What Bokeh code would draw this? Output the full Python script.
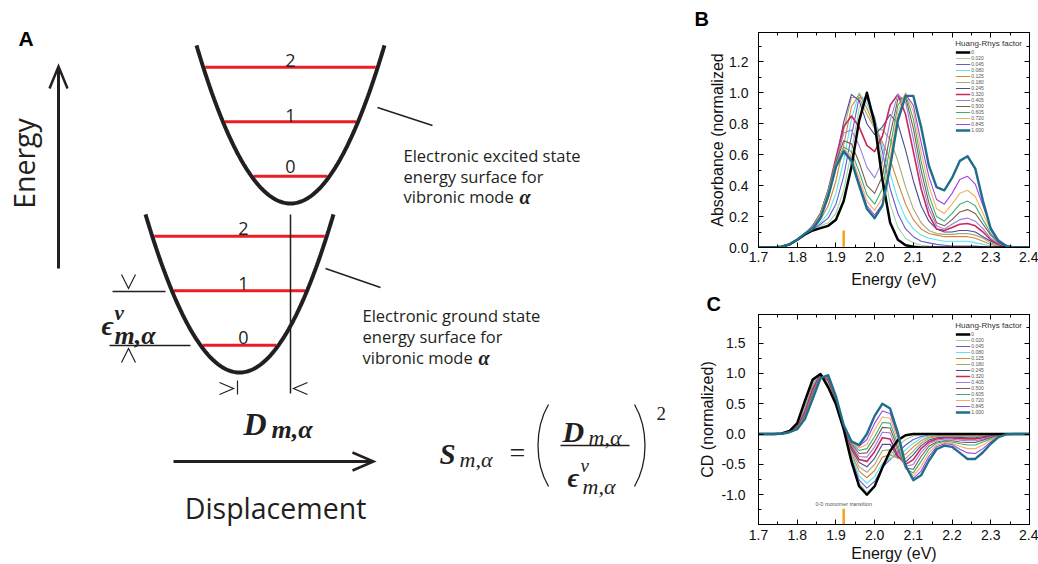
import numpy as np
from bokeh.plotting import figure
from bokeh.layouts import row, column
from bokeh.models import (Range1d, SingleIntervalTicker, NumeralTickFormatter,
                          LinearAxis, Legend, LegendItem)
from bokeh.core.properties import value
from bokeh.embed import file_html
from bokeh.resources import INLINE

# ------------------------------------------------------------------ data
ENERGY_EV = [1.70, 1.74, 1.76, 1.78, 1.80, 1.82, 1.84, 1.86, 1.88, 1.90, 1.92, 1.94,
             1.96, 1.98, 2.00, 2.02, 2.04, 2.06, 2.08, 2.10, 2.12, 2.14, 2.16, 2.18,
             2.20, 2.22, 2.24, 2.26, 2.28, 2.30, 2.32, 2.34, 2.36, 2.40]

HR_FACTORS = ["0", "0.020", "0.045", "0.080", "0.125", "0.180", "0.245",
              "0.320", "0.405", "0.500", "0.605", "0.720", "0.845", "1.000"]

# Panel B: normalized absorbance, one list per Huang-Rhys factor
ABS_0 = [0, 0, 0.005, 0.02, 0.05, 0.085, 0.11, 0.125, 0.14, 0.18, 0.30, 0.52, 0.82, 1.00, 0.80, 0.44, 0.16, 0.05, 0.015, 0.005, 0, 0, 0, 0, 0, 0, 0, 0, 0, 0, 0, 0, 0, 0]
ABS_020 = [0, 0, 0.005, 0.02, 0.05, 0.09, 0.12, 0.14, 0.16, 0.22, 0.37, 0.62, 0.90, 0.99, 0.84, 0.55, 0.28, 0.13, 0.06, 0.03, 0.015, 0.01, 0.005, 0, 0, 0, 0, 0, 0, 0, 0, 0, 0, 0]
ABS_045 = [0, 0, 0.005, 0.02, 0.05, 0.09, 0.12, 0.15, 0.19, 0.28, 0.46, 0.72, 0.97, 0.96, 0.84, 0.62, 0.38, 0.22, 0.12, 0.07, 0.04, 0.03, 0.02, 0.015, 0.01, 0.01, 0.01, 0.01, 0.005, 0, 0, 0, 0, 0]
ABS_080 = [0, 0, 0.005, 0.02, 0.05, 0.09, 0.13, 0.16, 0.22, 0.35, 0.56, 0.83, 1.00, 0.93, 0.82, 0.66, 0.48, 0.31, 0.19, 0.12, 0.08, 0.06, 0.05, 0.04, 0.04, 0.04, 0.04, 0.03, 0.02, 0.01, 0.005, 0, 0, 0]
ABS_125 = [0, 0, 0.005, 0.02, 0.05, 0.09, 0.13, 0.18, 0.27, 0.43, 0.66, 0.91, 0.99, 0.90, 0.78, 0.68, 0.57, 0.42, 0.28, 0.18, 0.12, 0.09, 0.08, 0.07, 0.07, 0.07, 0.07, 0.06, 0.04, 0.02, 0.01, 0.005, 0, 0]
ABS_180 = [0, 0, 0.005, 0.02, 0.05, 0.09, 0.14, 0.20, 0.32, 0.51, 0.76, 0.97, 0.97, 0.86, 0.77, 0.76, 0.70, 0.56, 0.39, 0.25, 0.16, 0.11, 0.09, 0.085, 0.085, 0.09, 0.09, 0.08, 0.06, 0.03, 0.015, 0.005, 0, 0]
ABS_245 = [0, 0, 0.005, 0.02, 0.05, 0.09, 0.14, 0.21, 0.35, 0.56, 0.81, 0.99, 0.95, 0.80, 0.73, 0.78, 0.86, 0.80, 0.63, 0.43, 0.27, 0.17, 0.12, 0.10, 0.10, 0.11, 0.11, 0.10, 0.07, 0.04, 0.02, 0.005, 0, 0]
ABS_320 = [0, 0, 0.005, 0.02, 0.05, 0.09, 0.14, 0.22, 0.37, 0.58, 0.78, 0.85, 0.78, 0.66, 0.62, 0.72, 0.92, 0.99, 0.86, 0.62, 0.38, 0.21, 0.12, 0.11, 0.13, 0.15, 0.155, 0.14, 0.10, 0.05, 0.02, 0.005, 0, 0]
ABS_405 = [0, 0, 0.005, 0.02, 0.05, 0.09, 0.14, 0.22, 0.37, 0.56, 0.74, 0.76, 0.66, 0.52, 0.45, 0.56, 0.82, 0.99, 0.94, 0.70, 0.44, 0.25, 0.14, 0.12, 0.15, 0.18, 0.19, 0.17, 0.12, 0.06, 0.025, 0.01, 0, 0]
ABS_500 = [0, 0, 0.005, 0.02, 0.05, 0.09, 0.14, 0.22, 0.37, 0.55, 0.69, 0.67, 0.55, 0.40, 0.35, 0.46, 0.73, 0.96, 0.97, 0.77, 0.50, 0.29, 0.16, 0.14, 0.18, 0.23, 0.245, 0.22, 0.15, 0.08, 0.03, 0.01, 0, 0]
ABS_605 = [0, 0, 0.005, 0.02, 0.05, 0.09, 0.14, 0.22, 0.37, 0.54, 0.65, 0.62, 0.49, 0.34, 0.28, 0.38, 0.65, 0.92, 0.99, 0.83, 0.56, 0.34, 0.20, 0.17, 0.22, 0.28, 0.30, 0.27, 0.18, 0.09, 0.035, 0.01, 0, 0]
ABS_720 = [0, 0, 0.005, 0.02, 0.05, 0.09, 0.13, 0.21, 0.36, 0.53, 0.64, 0.59, 0.45, 0.30, 0.24, 0.32, 0.58, 0.88, 1.00, 0.88, 0.62, 0.40, 0.25, 0.22, 0.28, 0.35, 0.37, 0.33, 0.22, 0.11, 0.04, 0.01, 0, 0]
ABS_845 = [0, 0, 0.005, 0.02, 0.05, 0.09, 0.13, 0.20, 0.35, 0.52, 0.63, 0.57, 0.42, 0.27, 0.21, 0.28, 0.52, 0.84, 0.99, 0.92, 0.68, 0.46, 0.31, 0.28, 0.35, 0.44, 0.46, 0.41, 0.27, 0.13, 0.05, 0.015, 0, 0]
ABS_1000 = [0, 0, 0.005, 0.02, 0.05, 0.09, 0.12, 0.19, 0.33, 0.52, 0.62, 0.56, 0.40, 0.25, 0.19, 0.27, 0.52, 0.82, 0.98, 0.98, 0.78, 0.53, 0.39, 0.37, 0.45, 0.56, 0.59, 0.51, 0.30, 0.12, 0.04, 0.01, 0, 0]

# Panel C: normalized CD, one list per Huang-Rhys factor
CD_0 = [0, 0, 0.01, 0.05, 0.18, 0.55, 0.90, 0.99, 0.77, 0.49, 0.08, -0.45, -0.86, -1.00, -0.86, -0.55, -0.28, -0.10, -0.02, 0, 0, 0, 0, 0, 0, 0, 0, 0, 0, 0, 0, 0, 0, 0]
CD_020 = [0, 0, 0.01, 0.05, 0.17, 0.52, 0.88, 0.99, 0.79, 0.50, 0.10, -0.42, -0.81, -0.96, -0.84, -0.55, -0.36, -0.20, -0.09, -0.03, -0.01, 0, 0, 0, 0, 0, 0, 0, 0, 0, 0, 0, 0, 0]
CD_045 = [0, 0, 0.01, 0.045, 0.16, 0.49, 0.86, 0.99, 0.81, 0.51, 0.11, -0.39, -0.76, -0.89, -0.78, -0.55, -0.42, -0.30, -0.18, -0.09, -0.04, -0.02, -0.01, -0.005, 0, 0, 0, 0, 0, 0, 0, 0, 0, 0]
CD_080 = [0, 0, 0.01, 0.04, 0.15, 0.46, 0.84, 0.99, 0.83, 0.52, 0.11, -0.35, -0.69, -0.81, -0.70, -0.48, -0.40, -0.36, -0.26, -0.15, -0.07, -0.03, -0.015, -0.01, -0.01, -0.015, -0.02, -0.02, -0.015, -0.01, -0.005, 0, 0, 0]
CD_125 = [0, 0, 0.01, 0.04, 0.14, 0.43, 0.81, 0.99, 0.85, 0.54, 0.12, -0.32, -0.61, -0.72, -0.60, -0.38, -0.34, -0.40, -0.33, -0.21, -0.11, -0.05, -0.03, -0.02, -0.02, -0.025, -0.03, -0.03, -0.02, -0.01, -0.005, 0, 0, 0]
CD_180 = [0, 0, 0.01, 0.04, 0.13, 0.40, 0.78, 0.98, 0.87, 0.55, 0.12, -0.28, -0.54, -0.63, -0.50, -0.27, -0.26, -0.40, -0.40, -0.28, -0.15, -0.07, -0.04, -0.03, -0.03, -0.035, -0.04, -0.04, -0.03, -0.02, -0.01, 0, 0, 0]
CD_245 = [0, 0, 0.01, 0.035, 0.12, 0.37, 0.75, 0.98, 0.89, 0.56, 0.13, -0.25, -0.47, -0.54, -0.40, -0.17, -0.17, -0.38, -0.46, -0.34, -0.19, -0.10, -0.06, -0.05, -0.05, -0.055, -0.06, -0.06, -0.045, -0.03, -0.01, 0, 0, 0]
CD_320 = [0, 0, 0.005, 0.035, 0.11, 0.35, 0.72, 0.97, 0.90, 0.57, 0.13, -0.21, -0.42, -0.45, -0.29, -0.06, -0.08, -0.36, -0.50, -0.42, -0.24, -0.13, -0.08, -0.065, -0.065, -0.075, -0.08, -0.08, -0.06, -0.04, -0.015, 0, 0, 0]
CD_405 = [0, 0, 0.005, 0.03, 0.10, 0.32, 0.69, 0.96, 0.92, 0.58, 0.14, -0.18, -0.37, -0.38, -0.21, 0.03, 0.02, -0.30, -0.53, -0.50, -0.30, -0.16, -0.10, -0.085, -0.085, -0.10, -0.11, -0.11, -0.08, -0.05, -0.02, -0.005, 0, 0]
CD_500 = [0, 0, 0.005, 0.03, 0.10, 0.30, 0.66, 0.95, 0.93, 0.59, 0.14, -0.16, -0.32, -0.31, -0.12, 0.11, 0.10, -0.24, -0.56, -0.58, -0.37, -0.20, -0.13, -0.11, -0.11, -0.13, -0.14, -0.14, -0.10, -0.06, -0.025, -0.005, 0, 0]
CD_605 = [0, 0, 0.005, 0.03, 0.09, 0.28, 0.63, 0.94, 0.94, 0.60, 0.14, -0.15, -0.27, -0.24, -0.04, 0.19, 0.18, -0.17, -0.57, -0.64, -0.45, -0.25, -0.15, -0.12, -0.13, -0.16, -0.18, -0.18, -0.13, -0.08, -0.03, -0.005, 0, 0]
CD_720 = [0, 0, 0.005, 0.03, 0.09, 0.27, 0.61, 0.93, 0.95, 0.61, 0.15, -0.14, -0.23, -0.17, 0.07, 0.28, 0.26, -0.10, -0.56, -0.69, -0.54, -0.31, -0.18, -0.14, -0.15, -0.20, -0.24, -0.24, -0.18, -0.10, -0.04, -0.005, 0, 0]
CD_845 = [0, 0, 0.005, 0.03, 0.08, 0.26, 0.59, 0.92, 0.96, 0.62, 0.15, -0.13, -0.20, -0.09, 0.18, 0.38, 0.34, -0.04, -0.54, -0.73, -0.61, -0.37, -0.21, -0.16, -0.17, -0.25, -0.31, -0.32, -0.24, -0.13, -0.045, -0.005, 0, 0]
CD_1000 = [0, 0, 0.005, 0.03, 0.08, 0.25, 0.58, 0.92, 0.97, 0.62, 0.15, -0.12, -0.18, 0.00, 0.30, 0.50, 0.42, 0.02, -0.52, -0.76, -0.68, -0.44, -0.25, -0.19, -0.21, -0.31, -0.41, -0.41, -0.30, -0.16, -0.05, -0.005, 0, 0]

ABSORBANCE = [ABS_0, ABS_020, ABS_045, ABS_080, ABS_125, ABS_180, ABS_245,
              ABS_320, ABS_405, ABS_500, ABS_605, ABS_720, ABS_845, ABS_1000]
CIRC_DICHROISM = [CD_0, CD_020, CD_045, CD_080, CD_125, CD_180, CD_245,
                  CD_320, CD_405, CD_500, CD_605, CD_720, CD_845, CD_1000]

MONOMER_00_EV = 1.92
MONOMER_MARK_ABS = [0.005, 0.11]
MONOMER_MARK_CD = [-1.49, -1.23]

# ------------------------------------------------------------------ styles
LINE_COLORS = ["#000000", "#9fd6a0", "#6a5acd", "#5fe3ea", "#d2883a", "#a8a67a",
               "#4b4b8f", "#c8285a", "#9b7fe0", "#7d5a4a", "#3fae74", "#f3b062",
               "#a040e8", "#1f6f8b"]
LINE_WIDTHS = [2.5, 1.1, 1.1, 1.1, 1.1, 1.1, 1.1, 1.6, 1.1, 1.1, 1.1, 1.1, 1.1, 2.4]
DRAW_ORDER = [1, 2, 3, 4, 5, 6, 7, 8, 9, 10, 11, 12, 0, 13]
ORANGE = "#f5a01e"
INK = "#231f20"
RED = "#ed1c24"
SANS = "Liberation Sans"
SERIF = "Liberation Serif"

# ------------------------------------------------------------------ panel A (diagram)
pa = figure(width=693, height=564, x_range=Range1d(0, 693), y_range=Range1d(564, 0),
            output_backend="svg", toolbar_location=None,
            x_axis_location=None, y_axis_location=None,
            min_border=0, outline_line_color=None)
pa.xgrid.visible = False
pa.ygrid.visible = False


def txt(p, x, y, s, size, font="Open Sans", style="normal", align="left",
        baseline="alphabetic", color=INK, angle=0.0):
    p.text(x=[x], y=[y], text=[s], text_font=value(font),
           text_font_size=value(f"{size}px"), text_font_style=style,
           text_align=align, text_baseline=baseline, text_color=color, angle=angle)


def stroke(p, xs, ys, w=1.5, color=INK):
    p.line(xs, ys, line_width=w, line_color=color, line_join="miter", line_cap="butt")


# harmonic wells (schematic)
EXCITED_MIN = (290, 203)
GROUND_MIN = (239, 372)
WELL_CURV = 0.0179
WELL_HALF = 94
QUANTUM = 54.5
LEVEL_BASELINES = {EXCITED_MIN: (290, [166, 115, 60]), GROUND_MIN: (243, [337, 283, 228])}

q = np.linspace(-WELL_HALF, WELL_HALF, 161)
for cx, cy in (EXCITED_MIN, GROUND_MIN):
    lx, bases = LEVEL_BASELINES[(cx, cy)]
    for v in range(3):
        e = (v + 0.5) * QUANTUM
        half = np.sqrt(e / WELL_CURV) - 2.0
        pa.segment(x0=[cx - half], y0=[cy - e], x1=[cx + half], y1=[cy - e],
                   line_color=RED, line_width=3)
        txt(pa, lx, bases[v], str(v), 18, align="center")
    pa.line(cx + q, cy - WELL_CURV * q ** 2, line_width=4, line_color=INK)

txt(pa, 18, 38, "A", 21, font=SANS, style="bold", color="#000000")

# energy axis arrow
stroke(pa, [58, 58], [268, 67], w=3)
stroke(pa, [49, 58, 67], [88, 66, 88], w=2.5)
txt(pa, 23, 163, "Energy", 28.5, align="center", baseline="middle", angle=np.pi / 2)

# displacement axis arrow
stroke(pa, [173, 371], [461, 461], w=3)
stroke(pa, [352, 373, 352], [452, 461, 470], w=2.5)
txt(pa, 275, 507, "Displacement", 28.5, align="center")

# vertical line through excited minimum, callouts
stroke(pa, [290, 290], [214, 393], w=1.5)
stroke(pa, [377, 432], [107, 125], w=1.5)
stroke(pa, [325, 380], [268, 287], w=1.5)

for x0, bases, first in ((403, [155, 175.5, 196], "Electronic excited state"),
                         (362, [315, 336, 357], "Electronic ground state")):
    txt(pa, x0, bases[0], first, 16.5)
    txt(pa, x0, bases[1], "energy surface for", 16.5)
    txt(pa, x0, bases[2], "vibronic mode", 16.5)
    txt(pa, x0 + 116, bases[2], "α", 20, font=SERIF, style="bold italic")

# epsilon markers
stroke(pa, [112, 165], [291, 291], w=1.5)
stroke(pa, [109, 190], [345, 345], w=1.5)
stroke(pa, [121, 128, 135], [274, 288, 274], w=1.2)
stroke(pa, [121, 128, 135], [362, 348, 362], w=1.2)
txt(pa, 101, 325, "ϵ", 28, font=SERIF, style="bold italic")
txt(pa, 114, 312, "ν", 21, font=SERIF, style="bold italic")
txt(pa, 114, 335, "m,α", 26, font=SERIF, style="bold italic")

# displacement markers
stroke(pa, [219, 233, 219], [382, 388, 394], w=1.2)
stroke(pa, [237, 237], [380, 394], w=1.2)
stroke(pa, [307, 293, 307], [382, 388, 394], w=1.2)
txt(pa, 243, 423, "D", 32, font=SERIF, style="bold italic")
txt(pa, 271, 429, "m,α", 26, font=SERIF, style="bold italic")

# Huang-Rhys formula
txt(pa, 439, 453, "S", 29, font=SERIF, style="bold italic")
txt(pa, 459, 459, "m,α", 22, font=SERIF, style="italic")
txt(pa, 517, 452, "=", 28, font=SERIF, align="center")
pa.bezier(x0=[548], y0=[404], x1=[548], y1=[486], cx0=[534], cy0=[428], cx1=[534], cy1=[462],
          line_color=INK, line_width=1.3)
pa.bezier(x0=[634], y0=[404], x1=[634], y1=[486], cx0=[648], cy0=[428], cx1=[648], cy1=[462],
          line_color=INK, line_width=1.3)
txt(pa, 562, 431, "D", 30, font=SERIF, style="bold italic")
txt(pa, 588, 437, "m,α", 22, font=SERIF, style="italic")
stroke(pa, [560, 629], [445, 445], w=1.3)
txt(pa, 567, 477, "ϵ", 27, font=SERIF, style="bold italic")
txt(pa, 580, 465, "ν", 19, font=SERIF, style="italic")
txt(pa, 582, 486, "m,α", 22, font=SERIF, style="italic")
txt(pa, 656, 413, "2", 19, font=SERIF)


# ------------------------------------------------------------------ panels B, C
FRAME_LEFT_PX = 65     # shared by B and C (column layouts align plot frames)
FRAME_RIGHT_PX = 9


def spectrum_panel(height, y_lo, y_hi, y_step, top_bottom, ylabel, series, mark_y,
                   tick_standoffs, label_standoffs, letter, letter_dx, letter_standoff):
    top, bottom = top_bottom
    p = figure(width=345, height=height, x_range=Range1d(1.6999, 2.4001),
               y_range=Range1d(y_lo, y_hi), output_backend="svg", toolbar_location=None,
               min_border_left=FRAME_LEFT_PX, min_border_right=FRAME_RIGHT_PX,
               min_border_top=top, min_border_bottom=bottom, title=letter)
    p.title.align = "left"
    p.title.offset = letter_dx
    p.title.standoff = letter_standoff
    p.title.text_font = SANS
    p.title.text_font_size = "20px"
    p.title.text_font_style = "bold"
    p.title.text_color = "#000000"
    p.xgrid.visible = False
    p.ygrid.visible = False
    p.outline_line_color = "black"
    p.outline_line_width = 1
    xt = SingleIntervalTicker(interval=0.1, num_minor_ticks=2)
    yt = SingleIntervalTicker(interval=y_step, num_minor_ticks=2)
    xa, ya = p.xaxis[0], p.yaxis[0]
    xa.ticker, ya.ticker = xt, yt
    xa.axis_label, ya.axis_label = "Energy (eV)", ylabel
    xa.major_label_standoff, ya.major_label_standoff = tick_standoffs
    xa.axis_label_standoff, ya.axis_label_standoff = label_standoffs
    top_ax = LinearAxis(ticker=xt)
    right_ax = LinearAxis(ticker=yt)
    p.add_layout(top_ax, "above")
    p.add_layout(right_ax, "right")
    for ax in (xa, ya, top_ax, right_ax):
        ax.formatter = NumeralTickFormatter(format="0.0")
        ax.major_tick_in, ax.major_tick_out = 5, 0
        ax.minor_tick_in, ax.minor_tick_out = 3, 0
        ax.axis_line_color = "black"
        ax.major_tick_line_color = "black"
        ax.minor_tick_line_color = "black"
        ax.major_label_text_font = SANS
        ax.major_label_text_font_size = "14px"
        ax.major_label_text_color = "#111111"
        ax.axis_label_text_font = SANS
        ax.axis_label_text_font_size = "16px"
        ax.axis_label_text_font_style = "normal"
        ax.axis_label_text_color = "#111111"
    for ax in (top_ax, right_ax):
        ax.major_label_text_font_size = "1px"
        ax.major_label_text_color = None
        ax.major_label_standoff = 0

    renderers = {}
    for i in DRAW_ORDER:
        renderers[i] = p.line(ENERGY_EV, series[i], line_color=LINE_COLORS[i],
                              line_width=LINE_WIDTHS[i], line_join="round")
    p.line([MONOMER_00_EV, MONOMER_00_EV], mark_y, line_color=ORANGE, line_width=2.5)

    items = [LegendItem(label=HR_FACTORS[i], renderers=[renderers[i]]) for i in range(14)]
    leg = Legend(items=items, location="top_right", title="Huang-Rhys factor")
    leg.title_text_font = SANS
    leg.title_text_font_size = "8px"
    leg.title_text_font_style = "normal"
    leg.title_text_color = "#333333"
    leg.title_standoff = 1
    leg.label_text_font = SANS
    leg.label_text_font_size = "5px"
    leg.label_text_line_height = 0.8
    leg.label_text_color = "#555555"
    leg.label_height = 4
    leg.glyph_height = 4
    leg.glyph_width = 15
    leg.label_standoff = 1
    leg.spacing = 0
    leg.padding = 2
    leg.margin = 5
    leg.border_line_alpha = 0
    leg.background_fill_alpha = 0
    p.add_layout(leg)
    return p


pb = spectrum_panel(290, 0.0, 1.39, 0.2, (32, 41), "Absorbance (normalized",
                    ABSORBANCE, MONOMER_MARK_ABS, (4, 10), (6, 0), "B", -64, 6)
pc = spectrum_panel(274, -1.49, 1.97, 0.5, (23, 40), "CD (normalized)",
                    CIRC_DICHROISM, MONOMER_MARK_CD, (5, 13), (2, 2), "C", -52, 0)
pc.text(x=[MONOMER_00_EV], y=[-1.16], text=["0-0 monomer transition"],
        text_font=value(SANS), text_font_size=value("5.5px"), text_align="center",
        text_baseline="middle", text_color="#555555")

layout = row(pa, column(pb, pc))
open("out.html", "w").write(file_html(layout, INLINE))
